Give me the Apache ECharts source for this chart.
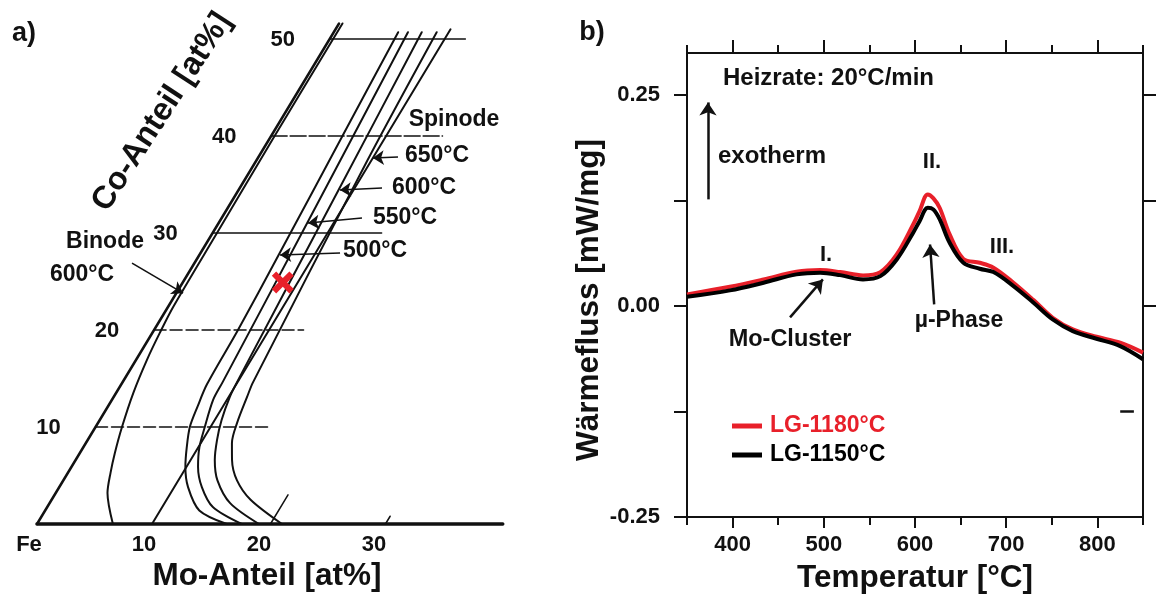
<!DOCTYPE html>
<html>
<head>
<meta charset="utf-8">
<script src="https://cdn.jsdelivr.net/npm/echarts@6/dist/echarts.min.js"></script>
<style>
  html, body { margin: 0; padding: 0; background: #fff; }
  #chart { width: 1157px; height: 596px; }
</style>
</head>
<body>
<div id="chart"></div>
<script>
// ---------- panel a) : Fe-Mo-Co section, points are [Mo at%, Co at%] ----------
const coAxisLine = [[0, 0], [0, 51.6]];
const moAxisLine = [[0, 0], [40.5, 0]];
const binode600 = [[6.6, 0], [4.5, 3.2], [3.7, 5.3], [3.05, 7.3], [2.3, 10], [1.5, 13.5], [0.95, 16.9],
  [0.65, 19.7], [0.45, 22.4], [0.38, 30], [0.3, 40], [0.3, 51.6]];
const mo10Line = [[10, 0], [10, 51]];
const spinode500 = [[16.5, 0], [13.4, 1.4], [11.2, 3.8], [9.9, 5.9], [9.0, 7.9], [8.2, 10], [7.8, 12.1],
  [7.45, 14.4], [7.3, 19.9], [6.9, 27.7], [6.2, 40], [5.6, 50.7]];
const spinode550 = [[17.8, 0], [14.4, 1.75], [12.4, 3.8], [11.0, 5.9], [10.1, 7.9], [9.5, 10], [8.8, 12.8],
  [8.7, 14.6], [7.7, 31.1], [6.45, 50.7]];
const spinode600 = [[19.3, 0], [15.7, 2.15], [13.4, 4.5], [12.1, 6.6], [11.25, 8.65], [10.6, 10.7], [10.1, 13.1],
  [9.95, 14.6], [8.7, 34.4], [7.65, 50.7]];
const spinode650 = [[21.3, 0], [17.3, 2.5], [15.1, 4.5], [13.6, 6.6], [12.7, 8.35], [12.1, 10.4], [11.6, 13.1],
  [11.35, 14.6], [9.65, 37.5], [8.95, 50.7]];
const tick20 = [[20.3, 0], [20.3, 3]];
const tick30 = [[30.3, 0], [30.3, 0.8]];
const coLevels = [10, 20, 30, 40, 50];
const tieLineEnds = [15.0, 13.0, 14.7, 14.9, 11.8];   // Mo where each Co line stops
const coTickLabels = ['10', '20', '30', '40', '50'];
const moTickValues = [0, 10, 20, 30];
const moTickLabels = ['Fe', '10', '20', '30'];
const sampleMark = [8.7, 24.9];

// ---------- panel b) : DSC curves ----------
const temps = [350, 397, 434, 470, 496, 518, 543, 562, 580, 598, 605, 614, 620, 627, 638, 653, 671, 686, 708, 730, 751, 773, 799, 825, 850];
const lg1180 = [0.0139, 0.023, 0.0316, 0.0407, 0.0427, 0.0403, 0.0364, 0.0403, 0.0612, 0.0968, 0.1126, 0.1323, 0.128, 0.1166,
  0.085, 0.056, 0.0514, 0.0455, 0.0277, 0.0071, -0.0138, -0.0276, -0.0363, -0.0434, -0.0552];
const lg1150 = [0.011, 0.0186, 0.0277, 0.0376, 0.0396, 0.0367, 0.0316, 0.0355, 0.0553, 0.087, 0.1007, 0.1166, 0.1146, 0.103,
  0.075, 0.0514, 0.0443, 0.0403, 0.0237, 0.004, -0.0158, -0.0296, -0.0387, -0.0474, -0.063];
const tempTicks = [400, 500, 600, 700, 800];
const fluxLabels = [-0.25, 0, 0.25];
const fluxTicks = [-0.25, -0.125, 0, 0.125, 0.25];

const FONT = '"Liberation Sans", Arial, sans-serif';
const INK = '#111';
const RED = '#e8202a';
const SKEW = 0.509; // sideways shift per Co unit (oblique Co axis)

function sk(p) { return [p[0] + SKEW * p[1], p[1]]; }
function zip(xs, ys) { return xs.map((x, i) => [x, ys[i]]); }

function aLine(pts, width, type, smooth) {
  return {
    type: 'line', xAxisIndex: 0, yAxisIndex: 0,
    data: pts.map(sk), symbol: 'none', smooth: smooth || false, clip: false, silent: true,
    lineStyle: { color: INK, width: width, type: type || 'solid', cap: 'round' }
  };
}

function arrow(from, to, conv) {
  return [{ coord: conv(from) }, { coord: conv(to) }];
}

function txt(x, y, text, size, extra) {
  extra = extra || {};
  return {
    type: 'text', x: x, y: y, rotation: extra.rot || 0, silent: true,
    style: {
      text: text, fill: extra.color || INK,
      font: 'bold ' + size + 'px ' + FONT,
      align: extra.align || 'center', verticalAlign: 'middle'
    }
  };
}

const chart = echarts.init(document.getElementById('chart'));

const tickLabelStyle = { show: true, position: 'inside', formatter: '{b}', color: INK, opacity: 1,
  fontSize: 22, fontWeight: 'bold', fontFamily: FONT, textBorderWidth: 0 };

const seriesA = [
  aLine(moAxisLine, 3.5),
  Object.assign(aLine(coAxisLine, 2.5), {
    markLine: {
      silent: true, symbol: ['none', 'arrow'], symbolSize: 11, animation: false,
      label: { show: false },
      lineStyle: { color: INK, width: 1.6, type: 'solid' },
      data: [
        arrow([-5.43, 26.9], [0.59, 23.8], sk),
        arrow([12.13, 27.94], [7.02, 27.73], sk),
        arrow([12.2, 31.55], [7.77, 31.03], sk),
        arrow([12.37, 34.64], [8.82, 34.43], sk),
        arrow([12.13, 37.84], [10.0, 37.73], sk)
      ]
    }
  }),
  aLine(binode600, 2, 'solid', 0.3),
  aLine(mo10Line, 2),
  aLine(spinode500, 2, 'solid', 0.3),
  aLine(spinode550, 2, 'solid', 0.3),
  aLine(spinode600, 2, 'solid', 0.3),
  aLine(spinode650, 2, 'solid', 0.3),
  aLine(tick20, 1.5),
  aLine(tick30, 1.5)
];
const tieStyles = [[12, 4], [12, 4], 'solid', [16, 3], 'solid'];
coLevels.forEach((c, i) => {
  seriesA.push(aLine([[0, c], [tieLineEnds[i], c]], 1.5, tieStyles[i]));
});
seriesA.push({
  type: 'scatter', xAxisIndex: 0, yAxisIndex: 0, symbolSize: 0, clip: false, silent: true,
  itemStyle: { opacity: 1 },
  data: coLevels.map((c, i) => ({ value: sk([0, c]), name: coTickLabels[i] })),
  label: Object.assign({ offset: [-47, 1] }, tickLabelStyle)
});
seriesA.push({
  type: 'scatter', xAxisIndex: 0, yAxisIndex: 0, symbolSize: 0, clip: false, silent: true,
  itemStyle: { opacity: 1 },
  data: moTickValues.map((m, i) => ({ value: sk([m, 0]), name: moTickLabels[i] })),
  label: Object.assign({ offset: [-8, 21] }, tickLabelStyle)
});
seriesA.push({
  type: 'scatter', xAxisIndex: 0, yAxisIndex: 0, clip: false, silent: true, z: 5,
  symbol: 'path://M0,2 L2,0 L5,3 L8,0 L10,2 L7,5 L10,8 L8,10 L5,7 L2,10 L0,8 L3,5 Z',
  symbolSize: 22, itemStyle: { color: RED, opacity: 1 },
  data: [sk(sampleMark)]
});

const id = p => p;
const axisFont = { fontSize: 22, fontWeight: 'bold', color: INK, fontFamily: FONT };
const blackAxis = { show: true, onZero: false, lineStyle: { color: INK, width: 2 } };

const seriesB = [
  {
    name: 'LG-1180°C', type: 'line', xAxisIndex: 1, yAxisIndex: 1,
    data: zip(temps, lg1180), symbol: 'none', smooth: 0.35,
    lineStyle: { color: RED, width: 4 }, itemStyle: { color: RED }
  },
  {
    name: 'LG-1150°C', type: 'line', xAxisIndex: 1, yAxisIndex: 1,
    data: zip(temps, lg1150), symbol: 'none', smooth: 0.35,
    lineStyle: { color: '#000', width: 4 }, itemStyle: { color: '#000' },
    markLine: {
      silent: true, symbol: ['none', 'arrow'], symbolSize: 13, animation: false,
      label: { show: false },
      lineStyle: { color: INK, width: 2.5, type: 'solid' },
      data: [
        arrow([373, 0.1265], [373, 0.2414], id),
        arrow([463, -0.0133], [499, 0.0316], id),
        arrow([621, 0.002], [616.5, 0.073], id),
        [{ coord: [825, -0.125], symbol: 'none' }, { coord: [840, -0.125], symbol: 'none' }]
      ]
    }
  }
];

chart.setOption({
  animation: false,
  backgroundColor: '#fff',
  grid: [
    { left: 37, top: 19.6, width: 517.5, height: 504.4, outerBoundsMode: 'none' },
    { left: 687, top: 53, right: 14, bottom: 79, outerBoundsMode: 'none' }
  ],
  xAxis: [
    { gridIndex: 0, type: 'value', min: 0, max: 45, show: false },
    {
      gridIndex: 1, type: 'value', min: 350, max: 850, interval: 100, position: 'bottom',
      axisLine: blackAxis,
      axisTick: { show: true, inside: false, length: 8, lineStyle: { color: INK, width: 2 } },
      minorTick: { show: true, splitNumber: 2, length: 11, lineStyle: { color: INK, width: 2 } },
      axisLabel: Object.assign({ show: true, customValues: tempTicks, margin: 17 }, axisFont),
      splitLine: { show: false }, minorSplitLine: { show: false }
    },
    {
      gridIndex: 1, type: 'value', min: 350, max: 850, interval: 100, position: 'top',
      axisLine: blackAxis,
      axisTick: { show: true, inside: false, length: 8, lineStyle: { color: INK, width: 2 } },
      minorTick: { show: true, splitNumber: 2, length: 13, lineStyle: { color: INK, width: 2 } },
      axisLabel: { show: false },
      splitLine: { show: false }, minorSplitLine: { show: false }
    }
  ],
  yAxis: [
    { gridIndex: 0, type: 'value', min: 0, max: 52, show: false },
    {
      gridIndex: 1, type: 'value', min: -0.25, max: 0.3, position: 'left',
      axisLine: blackAxis,
      axisTick: { show: true, inside: false, length: 13, customValues: fluxTicks, lineStyle: { color: INK, width: 2 } },
      axisLabel: Object.assign({ show: true, customValues: fluxLabels, margin: 27,
        formatter: v => v.toFixed(2) }, axisFont),
      splitLine: { show: false }
    },
    {
      gridIndex: 1, type: 'value', min: -0.25, max: 0.3, position: 'right',
      axisLine: blackAxis,
      axisTick: { show: true, inside: false, length: 13, customValues: [0, 0.125, 0.25], lineStyle: { color: INK, width: 2 } },
      axisLabel: { show: false },
      splitLine: { show: false }
    }
  ],
  legend: {
    data: [
      { name: 'LG-1180°C', textStyle: { color: RED } },
      { name: 'LG-1150°C', textStyle: { color: '#000' } }
    ],
    orient: 'vertical', left: 727, top: 409, itemGap: 5,
    icon: 'rect', itemWidth: 30, itemHeight: 5,
    selectedMode: false,
    textStyle: { fontSize: 23, fontWeight: 'bold', fontFamily: FONT, lineHeight: 24, padding: [0, 0, 0, 3] }
  },
  graphic: [
    txt(24, 34, 'a)', 27),
    txt(162, 112, 'Co-Anteil [at%]', 32, { rot: 57 * Math.PI / 180 }),
    txt(267, 576, 'Mo-Anteil [at%]', 31.5),
    txt(105, 242, 'Binode', 23),
    txt(82, 275, '600°C', 23),
    txt(454, 120, 'Spinode', 23),
    txt(437, 156, '650°C', 23),
    txt(424, 188, '600°C', 23),
    txt(405, 218, '550°C', 23),
    txt(375, 251, '500°C', 23),
    txt(592, 33, 'b)', 27),
    txt(723, 78, 'Heizrate: 20°C/min', 24, { align: 'left' }),
    txt(718, 156, 'exotherm', 24, { align: 'left' }),
    txt(826, 255, 'I.', 22),
    txt(932, 162, 'II.', 22),
    txt(1002, 247, 'III.', 22),
    txt(790, 340, 'Mo-Cluster', 23.5),
    txt(959, 321, 'µ-Phase', 23),
    txt(589, 300, 'Wärmefluss [mW/mg]', 31.5, { rot: Math.PI / 2 }),
    txt(915, 578, 'Temperatur [°C]', 31.5)
  ],
  series: seriesA.concat(seriesB)
});
</script>
</body>
</html>
